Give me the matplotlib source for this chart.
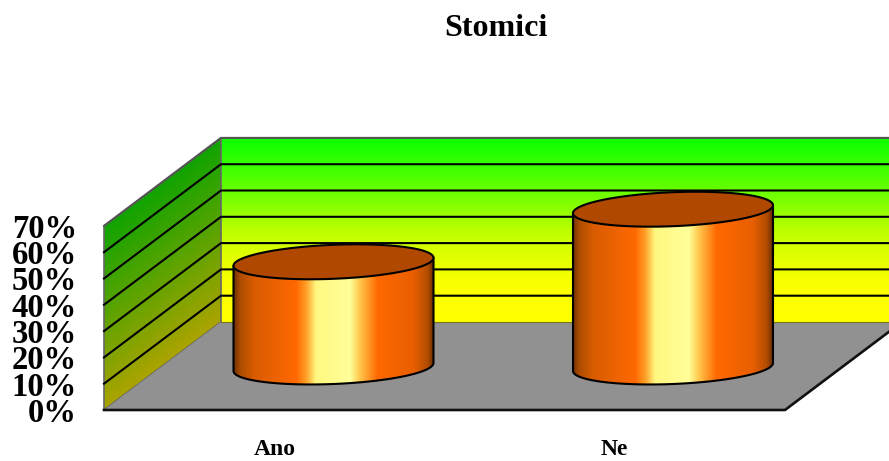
import numpy as np
import matplotlib
matplotlib.use("Agg")
import matplotlib.pyplot as plt
from matplotlib.colors import LinearSegmentedColormap
from matplotlib.patches import Polygon

categories = ["Ano", "Ne"]
values = [40, 60]
pct_ticks = [0, 10, 20, 30, 40, 50, 60, 70]
pct_labels = ["0%", "10%", "20%", "30%", "40%", "50%", "60%", "70%"]
title = "Stomici"

W, H = 889, 461
PX_CAT, PX_PCT = 339.5, 2.63
fig = plt.figure(figsize=(W / 100, H / 100), dpi=100, facecolor="white")
plt.rcParams["font.family"] = ["Liberation Serif", "DejaVu Serif"]
ax = fig.add_axes([104 / W, (H - 410) / H, (W - 104) / W, 272 / H])
xlim = (-171 / PX_CAT, (W - 275) / PX_CAT)
ylim = (0, 272 / PX_PCT)

# depth of the 3D box in data units
DX, DY = 117 / PX_CAT, 88 / PX_PCT
TOP = pct_ticks[-1]
LW = 1.5
X0 = xlim[0]
X1 = X0 + 681 / PX_CAT

# back wall
back_cmap = LinearSegmentedColormap.from_list("b", [
    (0.00, (0.05, 1, 0)), (0.07, (0.12, 1, 0)), (0.21, (0.30, 1, 0)), (0.36, (0.51, 1, 0)),
    (0.50, (0.73, 1, 0)), (0.64, (0.88, 1, 0)), (0.79, (0.98, 1, 0)), (0.93, (1, 1, 0)),
    (1.00, (1, 1, 0))])
im = ax.imshow(np.linspace(0, 1, 256)[:, None], cmap=back_cmap, aspect="auto", origin="upper",
               extent=(X0 + DX, xlim[1], DY, DY + TOP), zorder=1, vmin=0, vmax=1)

# left wall
left_cmap = LinearSegmentedColormap.from_list("l", [(0.06, 0.64, 0), (0.67, 0.64, 0)])
gx, gy = np.meshgrid(np.linspace(X0, X0 + DX, 120), np.linspace(0, DY + TOP, 300))
grad = 1 - (gy - (gx - X0) / DX * DY) / TOP
left_verts = [(X0, 0), (X0 + DX, DY), (X0 + DX, DY + TOP), (X0, TOP)]
left = Polygon(left_verts, closed=True, fc="none", ec="none")
ax.add_patch(left)
im2 = ax.imshow(grad, cmap=left_cmap, aspect="auto", origin="lower",
                extent=(X0, X0 + DX, 0, DY + TOP), zorder=1, vmin=0, vmax=1)
im2.set_clip_path(left)
ax.plot(*zip(*(left_verts + left_verts[:1])), color="#666666", lw=1.2, zorder=2, clip_on=False)

# floor
ax.add_patch(Polygon([(X0, 0), (X1, 0), (X1 + DX, DY), (X0 + DX, DY)], closed=True,
                     fc="#919191", ec="none", zorder=2))
ax.plot([X0, X1, X1 + DX], [0, 0, DY], color="#111111", lw=1.9, zorder=3, clip_on=False)
ax.plot([X0 + DX, xlim[1]], [DY, DY], color="#77771a", lw=0.8, zorder=3)

# gridlines on both walls
for p in pct_ticks[1:]:
    c = "#555555" if p == TOP else "black"
    ax.plot([X0, X0 + DX, xlim[1]], [p, DY + p, DY + p], color=c, lw=LW, zorder=3,
            solid_joinstyle="miter", clip_on=False)

# cylinders
side_cmap = LinearSegmentedColormap.from_list("s", [
    (0.00, (0.45, 0.20, 0.0)), (0.03, (0.68, 0.30, 0.0)), (0.10, (0.85, 0.36, 0.0)),
    (0.31, (1.0, 0.41, 0.0)), (0.36, (1.0, 0.62, 0.15)), (0.41, (1.0, 0.97, 0.50)),
    (0.58, (1.0, 1.0, 0.60)), (0.63, (1.0, 0.78, 0.30)), (0.72, (1.0, 0.41, 0.0)),
    (0.90, (0.91, 0.37, 0.0)), (0.97, (0.70, 0.30, 0.0)), (1.00, (0.42, 0.18, 0.0))])
RX = 100 / PX_CAT
RY = 17 / PX_PCT
SHEAR = 4 / PX_PCT
t = np.linspace(0, 2 * np.pi, 200)
for i, v in enumerate(values):
    cx, base = i + DX / 2, DY / 2 - 1 / PX_PCT
    lower = np.linspace(np.pi, 2 * np.pi, 100)
    bx = cx + RX * np.cos(lower)
    by = base + RY * np.sin(lower) + SHEAR * np.cos(lower)
    tx = bx[::-1]
    ty = by[::-1] + v
    body = Polygon(np.column_stack([np.r_[bx, tx], np.r_[by, ty]]), closed=True, fc="none", ec="none")
    ax.add_patch(body)
    img = ax.imshow(np.linspace(0, 1, 256)[None, :], cmap=side_cmap, aspect="auto",
                    extent=(cx - RX, cx + RX, base - RY * 1.2, base + v + RY), zorder=4)
    img.set_clip_path(body)
    ax.plot(np.r_[bx[0], bx, bx[-1]], np.r_[by[0] + v, by, by[-1] + v],
            color="black", lw=LW, zorder=5, solid_capstyle="round")
    ax.fill(cx + RX * np.cos(t), base + v + RY * np.sin(t) + SHEAR * np.cos(t),
            fc="#B04800", ec="black", lw=LW, zorder=6)

ax.set_xlim(*xlim)
ax.set_ylim(*ylim)
ax.patch.set_visible(False)
for s in ax.spines.values():
    s.set_visible(False)
ax.set_yticks(pct_ticks, pct_labels, fontsize=23.5, fontweight="bold")
ax.set_xticks(range(len(categories)), categories, fontsize=17, fontweight="bold")
ax.tick_params(axis="y", length=0, pad=19.5)
ax.tick_params(axis="x", length=0, pad=21)
fig.text(496 / W, 1 - 28 / H, title, fontsize=23, fontweight="bold", ha="center", va="center")
fig.savefig("out.png", dpi=100, facecolor="white")
